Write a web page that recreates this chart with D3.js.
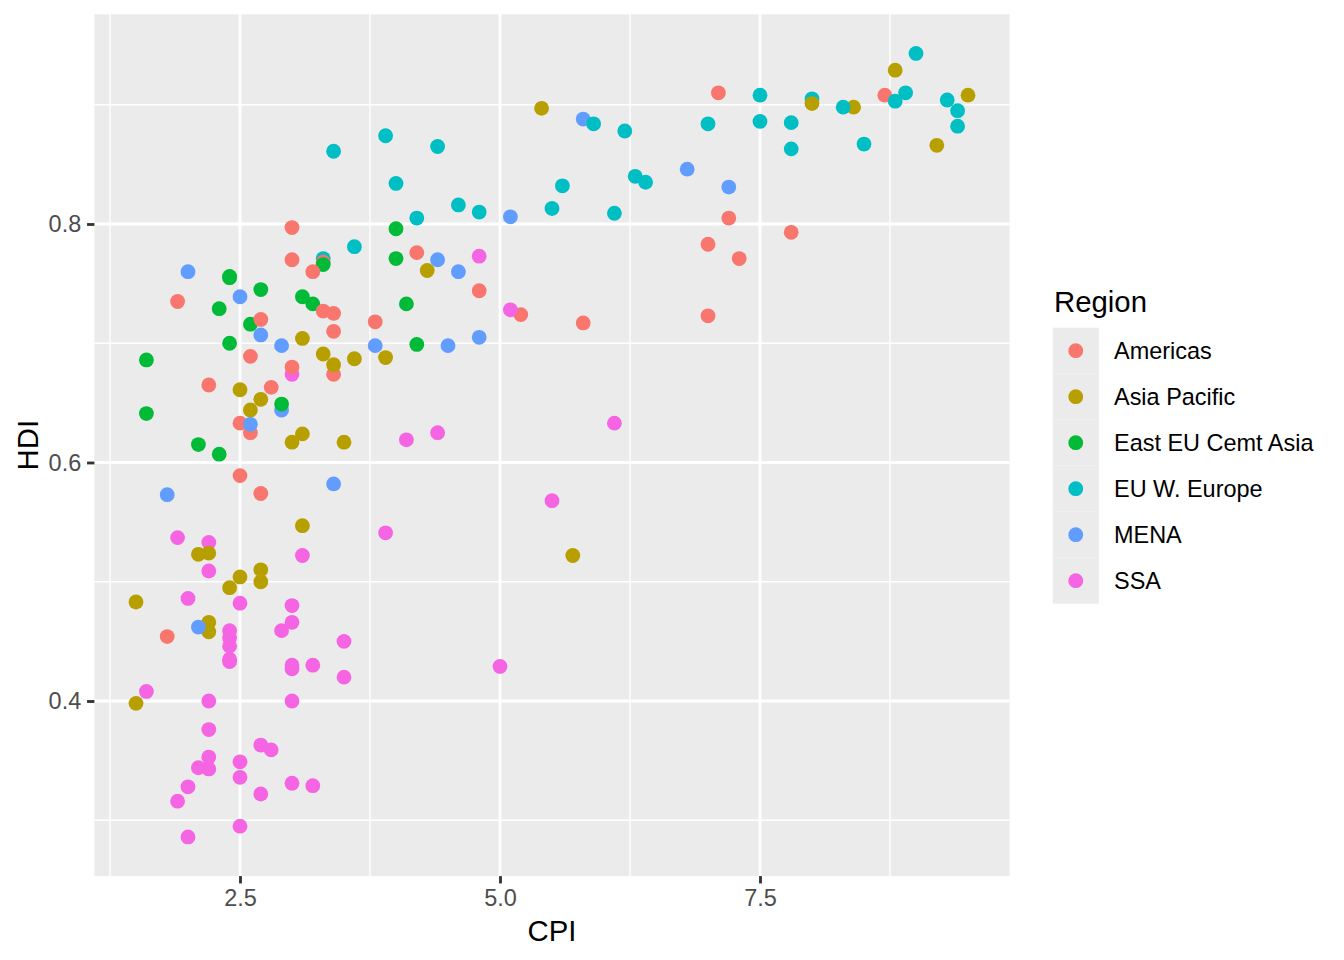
<!DOCTYPE html>
<html>
<head>
<meta charset="utf-8">
<script src="https://cdn.jsdelivr.net/npm/d3@7"></script>
<style>
  body { margin: 0; background: #fff; }
  svg { display: block; }
  text { font-family: "Liberation Sans", Arial, Helvetica, sans-serif; }
</style>
</head>
<body>
<svg id="chart" width="1344" height="960"></svg>
<script>
// ---- Data (alphabetical by country, as plotted) ----
const countries = ["Afghanistan","Albania","Algeria","Angola","Argentina","Armenia","Australia","Austria","Azerbaijan","Bahamas",
"Bahrain","Bangladesh","Barbados","Belarus","Belgium","Benin","Bhutan","Bolivia","Bosnia and Herzegovina","Botswana",
"Brazil","Britain","Bulgaria","Burkina Faso","Burundi","Cambodia","Cameroon","Canada","Cape Verde","Central African Republic",
"Chad","Chile","China","Colombia","Comoros","Congo","Congo Democratic Republic","Costa Rica","Cote d'Ivoire","Croatia",
"Cuba","Cyprus","Czech Republic","Denmark","Djibouti","Dominica","Dominican Republic","Ecuador","Egypt","El Salvador",
"Equatorial Guinea","Eritrea","Estonia","Ethiopia","Finland","France","Gabon","Gambia","Georgia","Germany",
"Ghana","Greece","Guatemala","Guinea","Guinea-Bissau","Guyana","Haiti","Honduras","Hong Kong","Hungary",
"Iceland","India","Indonesia","Iran","Iraq","Ireland","Israel","Italy","Jamaica","Japan",
"Jordan","Kazakhstan","Kenya","Kiribati","Korea (South)","Kuwait","Kyrgyzstan","Laos","Latvia","Lebanon",
"Lesotho","Liberia","Libya","Lithuania","Luxembourg","Madagascar","Malawi","Malaysia","Maldives","Mali",
"Malta","Mauritania","Mauritius","Mexico","Moldova","Mongolia","Montenegro","Morocco","Mozambique","Myanmar",
"Namibia","Nepal","Netherlands","New Zealand","Nicaragua","Niger","Nigeria","Norway","Oman","Pakistan",
"Panama","Papua New Guinea","Paraguay","Peru","Philippines","Poland","Portugal","Qatar","Romania","Russia",
"Rwanda","Saint Lucia","Saint Vincent and the Grenadines","Samoa","Saudi Arabia","Senegal","Serbia","Seychelles","Sierra Leone","Singapore",
"Slovakia","Slovenia","Solomon Islands","South Africa","Spain","Sri Lanka","Sudan","Suriname","Swaziland","Sweden",
"Switzerland","Syria","Tajikistan","Tanzania","Thailand","Timor-Leste","Togo","Tonga","Trinidad and Tobago","Tunisia",
"Turkey","Turkmenistan","Uganda","Ukraine","United Arab Emirates","United States","Uruguay","Uzbekistan","Vanuatu","Venezuela",
"Yemen","Zambia","Zimbabwe"];

const cpi = [1.5,3.1,2.9,2.0,3.0,2.6,8.8,7.8,2.4,7.3,
5.1,2.7,7.8,2.4,7.5,3.0,5.7,2.8,3.2,6.1,
3.8,7.8,3.3,3.0,1.9,2.1,2.5,8.7,5.5,2.2,
2.0,7.2,3.6,3.4,2.4,2.2,2.0,4.8,2.2,4.0,
4.2,6.3,4.4,9.4,3.0,5.2,2.6,2.7,2.9,3.4,
1.9,2.5,6.4,2.7,9.4,7.0,3.0,3.5,4.1,8.0,
3.9,3.4,2.7,2.1,2.2,2.5,1.8,2.6,8.4,4.6,
8.3,3.1,3.0,2.7,1.8,7.5,5.8,3.9,3.3,8.0,
4.5,2.7,2.2,3.1,5.4,4.6,2.1,2.2,4.2,2.5,
3.5,3.2,2.0,4.8,8.5,3.0,3.0,4.3,2.5,2.8,
5.6,2.4,5.1,3.0,2.9,2.7,4.0,3.4,2.7,1.5,
4.4,2.2,8.9,9.5,2.5,2.5,2.4,9.0,4.8,2.5,
3.3,2.2,2.2,3.4,2.6,5.5,6.1,7.2,3.6,2.4,
5.0,7.0,5.8,3.9,4.4,2.9,3.3,4.8,2.5,9.2,
4.0,5.9,2.7,4.1,6.2,3.3,1.6,3.0,3.1,9.3,
8.8,2.6,2.3,3.0,3.4,2.4,2.4,3.1,3.2,3.8,
4.2,1.6,2.4,2.3,6.8,7.1,7.0,1.6,3.5,1.9,
2.1,3.2,2.2];

const hdi = [0.398,0.739,0.698,0.486,0.797,0.716,0.929,0.885,0.700,0.771,
0.806,0.500,0.793,0.756,0.886,0.427,0.522,0.663,0.733,0.633,
0.718,0.863,0.771,0.331,0.316,0.523,0.482,0.908,0.568,0.343,
0.328,0.805,0.687,0.710,0.433,0.533,0.286,0.744,0.400,0.796,
0.776,0.840,0.865,0.895,0.430,0.724,0.689,0.720,0.644,0.674,
0.537,0.349,0.835,0.363,0.882,0.884,0.674,0.420,0.733,0.905,
0.541,0.861,0.574,0.344,0.353,0.633,0.454,0.625,0.898,0.816,
0.898,0.547,0.617,0.707,0.573,0.908,0.888,0.874,0.727,0.901,
0.698,0.745,0.509,0.624,0.897,0.760,0.615,0.524,0.805,0.739,
0.450,0.329,0.760,0.810,0.867,0.480,0.400,0.761,0.661,0.359,
0.832,0.453,0.728,0.770,0.649,0.653,0.771,0.582,0.322,0.483,
0.625,0.458,0.910,0.908,0.589,0.295,0.459,0.943,0.705,0.504,
0.768,0.466,0.665,0.725,0.644,0.813,0.809,0.831,0.781,0.755,
0.429,0.723,0.717,0.688,0.770,0.459,0.766,0.773,0.336,0.866,
0.834,0.884,0.510,0.619,0.878,0.691,0.408,0.680,0.522,0.904,
0.903,0.632,0.607,0.466,0.682,0.495,0.435,0.704,0.760,0.698,
0.699,0.686,0.446,0.729,0.846,0.910,0.783,0.641,0.617,0.735,
0.462,0.430,0.376];

const regionCodes = ["AP","EE","ME","SS","AM","EE","AP","EU","EE","AM",
"ME","AP","AM","EE","EU","SS","AP","AM","EE","SS",
"AM","EU","EU","SS","SS","AP","SS","AM","SS","SS",
"SS","AM","AP","AM","SS","SS","SS","AM","SS","EE",
"AM","EU","EU","EU","SS","AM","AM","AM","ME","AM",
"SS","SS","EU","SS","EU","EU","SS","SS","EE","EU",
"SS","EU","AM","SS","SS","AM","AM","AM","AP","EU",
"EU","AP","AP","ME","ME","EU","ME","EU","AM","AP",
"ME","EE","SS","AP","AP","ME","EE","AP","EU","ME",
"SS","SS","ME","EU","EU","SS","SS","AP","AP","SS",
"EU","SS","SS","AM","EE","AP","EE","ME","SS","AP",
"SS","AP","EU","AP","AM","SS","SS","EU","ME","AP",
"AM","AP","AM","AM","AP","EU","EU","ME","EU","EE",
"SS","AM","AM","AP","ME","SS","EE","SS","SS","AP",
"EU","EU","AP","SS","EU","AP","SS","AM","SS","EU",
"EU","ME","EE","SS","AP","AP","SS","AP","AM","ME",
"EE","EE","SS","EE","ME","AM","AM","EE","AP","AM",
"ME","SS","SS"];

const regionNames = {AM:"Americas", AP:"Asia Pacific", EE:"East EU Cemt Asia", EU:"EU W. Europe", ME:"MENA", SS:"SSA"};
const regions = ["Americas","Asia Pacific","East EU Cemt Asia","EU W. Europe","MENA","SSA"];
const regionColors = ["#F8766D","#B79F00","#00BA38","#00BFC4","#619CFF","#F564E3"];

const xTicks = [2.5, 5.0, 7.5];
const xTickLabels = ["2.5","5.0","7.5"];
const yTicks = [0.4, 0.6, 0.8];
const yTickLabels = ["0.4","0.6","0.8"];
const xMinor = [1.25, 3.75, 6.25, 8.75];
const yMinor = [0.3, 0.5, 0.7, 0.9];

// ---- Layout ----
const W = 1344, H = 960;
const panel = {left: 94.4, right: 1009.6, top: 14.3, bottom: 876.1};
const PT = 192 / 72;   // px per pt

const data = countries.map((c, i) => ({country: c, cpi: cpi[i], hdi: hdi[i], region: regionNames[regionCodes[i]]}));

function expand(ext) { const r = ext[1] - ext[0]; return [ext[0] - 0.05 * r, ext[1] + 0.05 * r]; }

const x = d3.scaleLinear().domain(expand(d3.extent(cpi))).range([panel.left, panel.right]);
const y = d3.scaleLinear().domain(expand(d3.extent(hdi))).range([panel.bottom, panel.top]);
const color = d3.scaleOrdinal().domain(regions).range(regionColors);

const svg = d3.select("#chart");

// panel background
svg.append("rect")
  .attr("x", panel.left).attr("y", panel.top)
  .attr("width", panel.right - panel.left).attr("height", panel.bottom - panel.top)
  .attr("fill", "#EBEBEB");

const majorW = 0.5 * 72.27 / 25.4 * 2;  // ~2.85 px
const minorW = majorW / 2;

const grid = svg.append("g");
grid.selectAll("line.xmin").data(xMinor).join("line")
  .attr("x1", d => x(d)).attr("x2", d => x(d)).attr("y1", panel.top).attr("y2", panel.bottom)
  .attr("stroke", "#fff").attr("stroke-width", minorW);
grid.selectAll("line.ymin").data(yMinor).join("line")
  .attr("y1", d => y(d)).attr("y2", d => y(d)).attr("x1", panel.left).attr("x2", panel.right)
  .attr("stroke", "#fff").attr("stroke-width", minorW);
grid.selectAll("line.xmaj").data(xTicks).join("line")
  .attr("x1", d => x(d)).attr("x2", d => x(d)).attr("y1", panel.top).attr("y2", panel.bottom)
  .attr("stroke", "#fff").attr("stroke-width", majorW);
grid.selectAll("line.ymaj").data(yTicks).join("line")
  .attr("y1", d => y(d)).attr("y2", d => y(d)).attr("x1", panel.left).attr("x2", panel.right)
  .attr("stroke", "#fff").attr("stroke-width", majorW);

// points
svg.append("g").selectAll("circle").data(data).join("circle")
  .attr("cx", d => x(d.cpi)).attr("cy", d => y(d.hdi)).attr("r", 7.4)
  .attr("fill", d => color(d.region));

// axes
const tickLen = 2.75 * PT;
const tickPad = 2.2 * PT;
const tickFont = 8.8 * PT;

const xAxis = d3.axisBottom(x).tickValues(xTicks).tickFormat((d, i) => xTickLabels[i])
  .tickSize(tickLen).tickPadding(tickPad);
const gx = svg.append("g").attr("transform", `translate(0,${panel.bottom})`).call(xAxis);
const yAxis = d3.axisLeft(y).tickValues(yTicks).tickFormat((d, i) => yTickLabels[i])
  .tickSize(tickLen).tickPadding(tickPad);
const gy = svg.append("g").attr("transform", `translate(${panel.left},0)`).call(yAxis);

[gx, gy].forEach(g => {
  g.select(".domain").remove();
  g.selectAll(".tick line").attr("stroke", "#333333").attr("stroke-width", majorW);
  g.selectAll(".tick text").attr("fill", "#4D4D4D")
    .style("font-size", tickFont + "px")
    .style("font-family", '"Liberation Sans", Arial, Helvetica, sans-serif');
});

// axis titles
const titleFont = 11 * PT;
svg.append("text")
  .attr("x", (panel.left + panel.right) / 2).attr("y", 941)
  .attr("text-anchor", "middle").attr("fill", "#000")
  .style("font-size", titleFont + "px").text("CPI");
svg.append("text")
  .attr("transform", `translate(38,${(panel.top + panel.bottom) / 2}) rotate(-90)`)
  .attr("text-anchor", "middle").attr("fill", "#000")
  .style("font-size", titleFont + "px").text("HDI");

// legend
const leg = svg.append("g");
leg.append("text").attr("x", 1054).attr("y", 312)
  .attr("fill", "#000").style("font-size", titleFont + "px").text("Region");
const keyX = 1052.7, keyY = 327.7, keyH = 46, keyW = 46.1;
const items = leg.selectAll("g.item").data(regions).join("g")
  .attr("transform", (d, i) => `translate(0,${keyY + i * keyH})`);
items.append("rect").attr("x", keyX).attr("y", 0).attr("width", keyW).attr("height", keyH)
  .attr("fill", "#EBEBEB");
items.append("circle").attr("cx", keyX + keyW / 2).attr("cy", keyH / 2).attr("r", 7.4)
  .attr("fill", d => color(d));
items.append("text").attr("x", 1114).attr("y", keyH / 2).attr("dy", "0.36em")
  .attr("fill", "#000").style("font-size", tickFont + "px").text(d => d);
</script>
</body>
</html>
